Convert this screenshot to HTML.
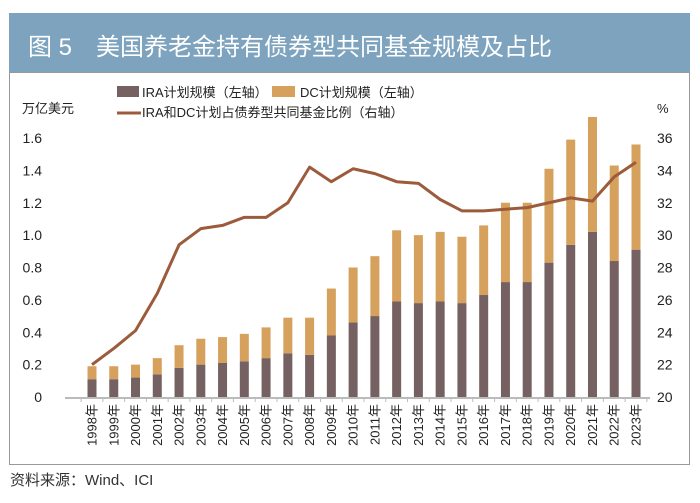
<!DOCTYPE html>
<html><head><meta charset="utf-8"><style>
body{margin:0;width:700px;height:498px;background:#fff;overflow:hidden;font-family:"Liberation Sans","Noto Sans CJK SC",sans-serif;}
</style></head><body>
<svg width="700" height="498" xmlns="http://www.w3.org/2000/svg" font-family="Liberation Sans, Noto Sans CJK SC, sans-serif">
<rect x="9" y="13" width="681" height="59" fill="#7ea3be"/>
<text x="28" y="55" font-size="24" fill="#fff">图 5　美国养老金持有债券型共同基金规模及占比</text>
<rect x="9.5" y="72.5" width="680" height="392" fill="none" stroke="#999" stroke-width="1"/>
<text x="22" y="113" font-size="13" fill="#222">万亿美元</text>
<text x="657" y="113" font-size="13" fill="#222">%</text>
<g font-size="13" fill="#222">
<rect x="117" y="86" width="22" height="11" fill="#756062"/>
<text x="142" y="97">IRA计划规模（左轴）</text>
<rect x="272" y="86" width="23" height="11" fill="#d6a05d"/>
<text x="300" y="97">DC计划规模（左轴）</text>
<line x1="117" y1="113" x2="141" y2="113" stroke="#9c5b3a" stroke-width="3"/>
<text x="142" y="117">IRA和DC计划占债券型共同基金比例（右轴）</text>
</g>
<g id="plot"></g>
<text x="10" y="485" font-size="15" fill="#333">资料来源：Wind、ICI</text>
</svg>
<script>
const years=["1998","1999","2000","2001","2002","2003","2004","2005","2006","2007","2008","2009","2010","2011","2012","2013","2014","2015","2016","2017","2018","2019","2020","2021","2022","2023"];
const ira=[0.11,0.11,0.12,0.14,0.18,0.20,0.21,0.22,0.24,0.27,0.26,0.38,0.46,0.50,0.59,0.58,0.59,0.58,0.63,0.71,0.71,0.83,0.94,1.02,0.84,0.91];
const dc=[0.08,0.08,0.08,0.10,0.14,0.16,0.16,0.17,0.19,0.22,0.23,0.29,0.34,0.37,0.44,0.42,0.43,0.41,0.43,0.49,0.49,0.58,0.65,0.71,0.59,0.65];
const ratio=[22.0,23.0,24.1,26.4,29.4,30.4,30.6,31.1,31.1,32.0,34.2,33.3,34.1,33.8,33.3,33.2,32.2,31.5,31.5,31.6,31.7,32.0,32.3,32.1,33.6,34.5];
const leftTicks=[0,0.2,0.4,0.6,0.8,1.0,1.2,1.4,1.6];
const rightTicks=[20,22,24,26,28,30,32,34,36];
const NS="http://www.w3.org/2000/svg";
const g=document.getElementById('plot');
const y0=397,yTop=138;
const yL=v=>y0-(v/1.6)*(y0-yTop);
const yR=v=>y0-((v-20)/16)*(y0-yTop);
const xC=i=>92+i*21.76;
function mk(t,a){const e=document.createElementNS(NS,t);for(const k in a)e.setAttribute(k,a[k]);g.appendChild(e);return e;}
leftTicks.forEach(v=>{const t=mk('text',{x:42,y:yL(v)+5,'font-size':14,fill:'#222','text-anchor':'end'});t.textContent=v===0?'0':v.toFixed(1);

});
rightTicks.forEach(v=>{const t=mk('text',{x:657,y:yR(v)+5,'font-size':14,fill:'#222'});t.textContent=v;

});
years.forEach((yr,i)=>{const x=xC(i);
const b=mk('rect',{x:x-4.5,y:yL(ira[i]),width:9,height:y0-yL(ira[i]),fill:'#756062'});


const d=mk('rect',{x:x-4.5,y:yL(ira[i]+dc[i]),width:9,height:yL(ira[i])-yL(ira[i]+dc[i]),fill:'#d6a05d'});


const t=mk('text',{x:0,y:0,'font-size':13,fill:'#222','text-anchor':'end',transform:`translate(${x+4.5},404) rotate(-90)`});t.textContent=yr+'年';

});
const ax=mk('line',{x1:65,y1:y0+1,x2:650,y2:y0+1,stroke:'#bbb','stroke-width':2});


for(let i=0;i<=26;i++){const x=xC(i)-10.88;const tk=mk('line',{x1:x,y1:y0,x2:x,y2:y0+5,stroke:'#bbb','stroke-width':1});

}
const pl=mk('polyline',{points:ratio.map((v,i)=>xC(i)+','+yR(v)).join(' '),fill:'none',stroke:'#9c5b3a','stroke-width':3,'stroke-linejoin':'round'});


</script>
</body></html>
